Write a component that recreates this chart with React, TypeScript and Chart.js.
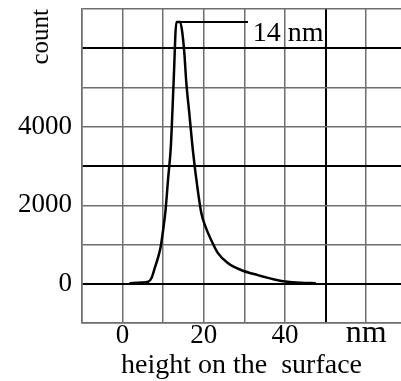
import React, { useEffect, useRef } from 'react';
import { Chart, registerables } from 'chart.js';

Chart.register(...registerables);

// Height histogram (nm) vs count
const heights = [1.7, 4.7, 6.3, 7.1, 7.9, 8.8, 9.4, 10.0, 10.6, 11.2, 11.9, 12.3, 12.7, 13.0, 13.25, 14.2, 14.7, 15.2, 15.7, 16.5, 17.3, 18.4, 19.4, 20.4, 21.8, 23.5, 26.0, 29.2, 33.3, 37.4, 40.6, 43.9, 47.6];
const counts = [10, 30, 50, 140, 390, 690, 950, 1375, 1890, 2655, 3510, 4450, 5470, 6330, 6670, 6670, 6410, 5900, 5130, 4280, 3420, 2480, 1800, 1460, 1120, 780, 520, 350, 220, 110, 50, 25, 15];

// Peak marker line and its label
const peakLineX = [13.25, 30.9];
const peakLineY = [6670, 6670];
const peakLabel = '14 nm';
const peakLabelX = 32.1;
const peakLabelY = 6197;

// Axes
const xTicks = [-10, 0, 10, 20, 30, 40, 50, 60];
const xTickLabels = ['', '0', '', '20', '', '40', '', 'nm'];
const yTicks = [-1000, 0, 1000, 2000, 3000, 4000, 5000, 6000, 7000];
const yTickLabels = ['', '0', '', '2000', '', '4000', '', '', ''];
const xThick = [50];
const yThick = [0, 3000, 6000];
const xMin = -10;
const xMax = 68.6;
const yMin = -1000;
const yMax = 7000;

const FONT = '"Liberation Serif", "Times New Roman", serif';

export default function App() {
  const ref = useRef<HTMLCanvasElement | null>(null);

  useEffect(() => {
    document.body.style.margin = '0';
    const canvas = ref.current;
    if (!canvas) return;

    const labelPlugin = {
      id: 'peakLabel',
      afterDatasetsDraw(chart: any) {
        const { ctx, scales } = chart;
        ctx.save();
        ctx.font = `28px ${FONT}`;
        ctx.fillStyle = '#000';
        ctx.textAlign = 'left';
        ctx.textBaseline = 'alphabetic';
        ctx.fillText(peakLabel, scales.x.getPixelForValue(peakLabelX), scales.y.getPixelForValue(peakLabelY));
        ctx.restore();
      },
    };

    const chart = new Chart(canvas, {
      type: 'line',
      data: {
        datasets: [
          {
            data: heights.map((h, i) => ({ x: h, y: counts[i] })),
            borderColor: '#000',
            borderWidth: 2.5,
            pointRadius: 0,
            cubicInterpolationMode: 'monotone',
            fill: false,
          },
          {
            data: peakLineX.map((h, i) => ({ x: h, y: peakLineY[i] })),
            borderColor: '#000',
            borderWidth: 2,
            pointRadius: 0,
            tension: 0,
            fill: false,
          },
        ],
      },
      plugins: [labelPlugin],
      options: {
        animation: false,
        responsive: false,
        devicePixelRatio: 1,
        layout: { padding: { top: 9, right: 0, left: 0, bottom: 0 } },
        plugins: { legend: { display: false }, tooltip: { enabled: false } },
        scales: {
          x: {
            type: 'linear',
            min: xMin,
            max: xMax,
            afterBuildTicks: (scale: any) => {
              scale.ticks = xTicks.map((v) => ({ value: v }));
            },
            afterFit: (scale: any) => {
              scale.height = 58;
              scale.paddingLeft = 0;
              scale.paddingRight = 0;
            },
            grid: {
              drawTicks: false,
              color: (c: any) => (xThick.includes(c.tick?.value) ? '#000' : '#6e6e6e'),
              lineWidth: (c: any) => (xThick.includes(c.tick?.value) ? 2 : 1.5),
            },
            border: { color: '#6e6e6e', width: 1.5 },
            ticks: {
              padding: -1,
              color: '#000',
              maxRotation: 0,
              autoSkip: false,
              font: (c: any) =>
                c.tick && xTickLabels[xTicks.indexOf(c.tick.value)] === 'nm'
                  ? { family: FONT, size: 32, lineHeight: 0.75 }
                  : { family: FONT, size: 27, lineHeight: 1 },
              callback: (v: any) => {
                const i = xTicks.indexOf(Number(v));
                return i >= 0 ? xTickLabels[i] : '';
              },
            },
            title: {
              display: true,
              text: 'height on the  surface',
              color: '#000',
              font: { family: FONT, size: 28, lineHeight: 1 },
              padding: { top: 0, bottom: 1.5 },
            },
          },
          y: {
            type: 'linear',
            min: yMin,
            max: yMax,
            afterBuildTicks: (scale: any) => {
              scale.ticks = yTicks.map((v) => ({ value: v }));
            },
            afterFit: (scale: any) => {
              scale.width = 82;
              scale.paddingTop = 0;
              scale.paddingBottom = 0;
            },
            grid: {
              drawTicks: false,
              color: (c: any) => (yThick.includes(c.tick?.value) ? '#000' : '#6e6e6e'),
              lineWidth: (c: any) => (yThick.includes(c.tick?.value) ? 2 : 1.5),
            },
            border: { color: '#6e6e6e', width: 1.5 },
            ticks: {
              padding: 10,
              color: '#000',
              autoSkip: false,
              font: { family: FONT, size: 27, lineHeight: 1 },
              callback: (v: any) => {
                const i = yTicks.indexOf(Number(v));
                return i >= 0 ? yTickLabels[i] : '';
              },
            },
            title: {
              display: true,
              text: 'count',
              align: 'end',
              color: '#000',
              font: { family: FONT, size: 25, lineHeight: 1 },
              padding: { top: 28.5, bottom: 0 },
            },
          },
        },
      },
    } as any);

    return () => chart.destroy();
  }, []);

  return <canvas ref={ref} width={401} height={381} style={{ display: 'block', width: 401, height: 381 }} />;
}
